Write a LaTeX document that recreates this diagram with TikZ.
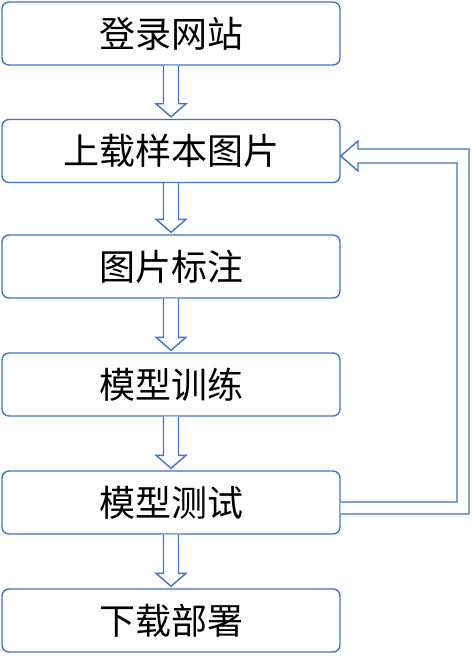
\documentclass[tikz,border=0pt]{standalone}
\usepackage{fontspec}
\setmainfont{Noto Sans CJK SC}
\usetikzlibrary{calc}
\definecolor{bl}{HTML}{4472C4}
\tikzset{
  box/.style={draw=bl, line width=1.4pt, rounded corners=7pt, minimum width=338pt, minimum height=63pt, inner sep=0pt, font=\fontsize{36}{38}\selectfont, text=black},
  barrow/.style={draw=bl, line width=1.4pt, fill=white, line join=miter}
}
\newcommand{\blockarr}[2]{%
  \draw[barrow] let \p1=(#1.south), \p2=(#2.north) in
    (\x1-7.5,\y1) -- (\x1-7.5,\y2+15) -- (\x1-15,\y2+15) -- (\x1,\y2+2) -- (\x1+15,\y2+15) -- (\x1+7.5,\y2+15) -- (\x1+7.5,\y1);}
\begin{document}
\begin{tikzpicture}[x=1pt,y=-1pt]
\useasboundingbox (0,0) rectangle (471,666);
\node[box] (n1) at (171,33.5) {登录网站};
\node[box] (n2) at (171,151) {上载样本图片};
\node[box] (n3) at (171,266.5) {图片标注};
\node[box] (n4) at (171,384.5) {模型训练};
\node[box] (n5) at (171,502.5) {模型测试};
\node[box] (n6) at (171,620.5) {下载部署};
\blockarr{n1}{n2}
\blockarr{n2}{n3}
\blockarr{n3}{n4}
\blockarr{n4}{n5}
\blockarr{n5}{n6}
\draw[barrow] let \p1=(n5.east), \p2=(n2.east) in
  (\x1,502) -- (457,502) -- (457,163) -- (358,163) -- (358,171) -- (\x2,156)
  -- (358,141) -- (358,149) -- (469,149) -- (469,514) -- (\x1,514);
\end{tikzpicture}
\end{document}
